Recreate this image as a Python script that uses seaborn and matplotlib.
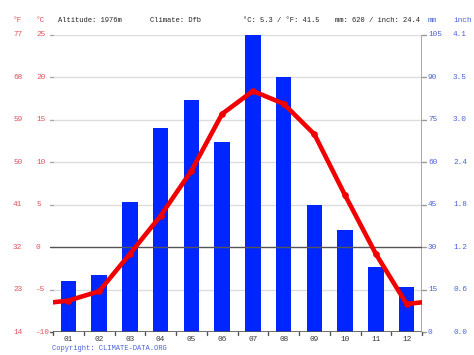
import numpy as np
import pandas as pd
import matplotlib
matplotlib.use("Agg")
import matplotlib.pyplot as plt
import matplotlib.transforms as mtransforms
import seaborn as sns

months = ["01", "02", "03", "04", "05", "06", "07", "08", "09", "10", "11", "12"]
precip_mm = [18, 20, 46, 72, 82, 67, 105, 90, 45, 36, 23, 16]
temp_c = [-6.3, -5.2, -0.8, 3.7, 9.0, 15.7, 18.4, 16.9, 13.3, 6.1, -0.8, -6.7]
c_ticks = [25, 20, 15, 10, 5, 0, -5, -10]
f_ticks = [77, 68, 59, 50, 41, 32, 23, 14]
mm_ticks = [105, 90, 75, 60, 45, 30, 15, 0]
inch_ticks = ["4.1", "3.5", "3.0", "2.4", "1.8", "1.2", "0.6", "0.0"]
header = ["Altitude: 1976m", "Climate: Dfb", "°C: 5.3 / °F: 41.5", "mm: 620 / inch: 24.4"]

sns.set_style("white")
plt.rcParams["font.family"] = ["Liberation Mono", "DejaVu Sans Mono"]

RED_TXT = "#e0525a"
BLUE_TXT = "#4a62d8"
BAR = "#0026ff"
LINE = "#f00000"
FS = 5.6
HFS = 5.1

fig = plt.figure(figsize=(4.74, 3.55), dpi=100)
ax = fig.add_axes([53 / 474, 1 - 332 / 355, 369 / 474, 297 / 355])
ax2 = ax.twinx()

# gridlines (behind bars) on precipitation scale, which aligns with temp scale
for m in mm_ticks:
    if m in (0, 30):
        continue
    ax.axhline(m, color="#dddddd", lw=1, zorder=0)
    ax.plot([-0.6, -0.5], [m, m], color="#aaaaaa", lw=1, clip_on=False)

df = pd.DataFrame({"month": months, "mm": precip_mm})
sns.barplot(data=df, x="month", y="mm", ax=ax, color=BAR, saturation=1,
            width=0.51, edgecolor="none", zorder=3)
ax.set_ylim(0, 105)
ax.set_xlim(-0.5, 11.5)

# temperature line, wrapped to edges
wrap = (temp_c[0] + temp_c[-1]) / 2
xs = [-0.5] + list(range(12)) + [11.5]
ys = [wrap] + temp_c + [wrap]
ldf = pd.DataFrame({"x": xs, "t": ys})
sns.lineplot(data=ldf, x="x", y="t", ax=ax2, color=LINE, lw=3.3, sort=False,
             zorder=5)
ax2.plot(range(12), temp_c, "o", color=LINE, ms=3.8, zorder=6)
ax2.set_ylim(-10, 25)
ax2.set_xlim(-0.5, 11.5)

for a in (ax, ax2):
    a.set_xlabel("")
    a.set_ylabel("")
    a.set_yticks([])
    for s in a.spines.values():
        s.set_visible(False)

ax.set_zorder(1)
ax2.set_zorder(2)
ax2.patch.set_visible(False)
ax.patch.set_visible(False)

# zero °C line
ax2.axhline(0, color="#555555", lw=1, zorder=4)
ax2.plot([-0.6, -0.5], [0, 0], color="#555555", lw=1, clip_on=False)

# bottom axis line & ticks
ax.axhline(0, color="#555555", lw=1.2, zorder=4)
ax.plot([-0.6, -0.5], [0, 0], color="#555555", lw=1, clip_on=False)
ax.set_xticks(range(12))
ax.set_xticklabels(months, fontsize=FS, color="#333333")
ax.tick_params(axis="x", length=0, pad=3)
for b in np.arange(-0.5, 12.0, 1.0):
    ax.plot([b, b], [0, -0.9], color="#555555", lw=1, clip_on=False, zorder=4)

# right spine
ax.axvline(11.5, color="#999999", lw=1.2, zorder=4)

# left/right tick labels
trl = mtransforms.blended_transform_factory(fig.transFigure, ax2.transData)
for c, f in zip(c_ticks, f_ticks):
    ax2.text(36 / 474, c, str(c), transform=trl, fontsize=FS, color=RED_TXT,
             va="center", ha="left")
    ax2.text(13 / 474, c, str(f), transform=trl, fontsize=FS, color=RED_TXT,
             va="center", ha="left")
trr = mtransforms.blended_transform_factory(fig.transFigure, ax.transData)
for m, inch in zip(mm_ticks, inch_ticks):
    ax.text(428 / 474, m, str(m), transform=trr, fontsize=FS, color=BLUE_TXT,
            va="center", ha="left")
    ax.text(453 / 474, m, inch, transform=trr, fontsize=FS, color=BLUE_TXT,
            va="center", ha="left")
    ax.plot([11.5, 11.62], [m, m], color="#999999", lw=1, clip_on=False)

# header
hy = 1 - 20 / 355
fig.text(13 / 474, hy, "°F", fontsize=FS, color=RED_TXT, va="center")
fig.text(36 / 474, hy, "°C", fontsize=FS, color=RED_TXT, va="center")
for txt, x in zip(header, [58, 150, 243, 335]):
    fig.text(x / 474, hy, txt, fontsize=HFS, color="#222222", va="center")
fig.text(428 / 474, hy, "mm", fontsize=FS, color=BLUE_TXT, va="center")
fig.text(453 / 474, hy, "inch", fontsize=FS, color=BLUE_TXT, va="center")

fig.text(52 / 474, 1 - 348 / 355, "Copyright: CLIMATE-DATA.ORG", fontsize=HFS,
         color=BLUE_TXT, va="center")

fig.savefig("out.png", dpi=100)
